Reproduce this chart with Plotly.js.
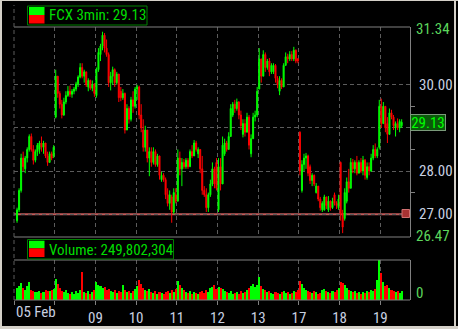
<!DOCTYPE html>
<html><head><meta charset="utf-8">
<script src="https://cdn.plot.ly/plotly-3.0.1.min.js"></script>
<style>html,body{margin:0;padding:0;background:#000;overflow:hidden}#wrap{position:relative;width:458px;height:329px}#plot{position:absolute;left:0;top:0}
.fr{position:absolute;background:#d4d0c8}</style>
</head><body><div id="wrap"><div id="plot"></div>
<div class="fr" style="left:0;top:0;width:2px;height:329px"></div>
<div class="fr" style="left:0;top:0;width:458px;height:1px"></div>
<div class="fr" style="left:454px;top:0;width:2px;height:329px"></div>
<div class="fr" style="left:0;top:326px;width:458px;height:3px"></div>
</div>
<script>
// ---- data (3-min bars, aggregated, 20 per trading day) ----
const symbol = 'FCX';
const interval = '3min';
const lastPrice = 29.13;
const totalVolume = '249,802,304';
const dayLabels = ['05 Feb', '06', '09', '10', '11', '12', '13', '17', '18', '19'];
const shownDayLabels = ['05 Feb', '', '09', '10', '11', '12', '13', '17', '18', '19'];
const barsPerDay = 20;
const firstBar = 1;
const priceTicks = [27, 28, 29, 30];
const priceTickLabels = ['27.00', '28.00', '', '30.00']; // 29.00 hidden behind last-price box
const priceMinorTicks = [27.5, 28.5, 29.5];
const priceMin = 26.47, priceMax = 31.34;
const alertLevel = 27.00;

const open = [
26.85,27.10,27.55,28.30,28.05,28.30,28.50,28.80,28.50,28.25,28.45,28.50,28.65,28.55,28.65,28.35,28.20,28.40,28.35,
29.25,30.20,29.80,29.55,29.30,29.60,29.75,29.85,29.78,29.85,29.90,30.02,30.18,30.40,30.20,30.30,29.95,30.10,29.92,30.00,
29.75,30.35,30.70,30.90,31.15,30.85,30.70,30.05,30.20,30.35,30.05,30.25,29.85,29.70,29.80,28.95,29.45,29.20,29.65,29.50,
29.90,29.95,29.30,28.95,28.55,28.95,28.30,28.45,28.20,28.45,28.15,28.35,27.80,27.90,27.80,27.45,27.25,27.40,27.05,27.45,
27.30,28.30,28.05,28.20,28.10,28.25,28.10,28.45,28.35,28.65,28.40,28.50,28.05,27.55,27.45,27.15,27.45,27.70,28.05,28.20,
27.10,28.10,27.70,28.40,28.65,28.50,28.80,29.30,29.55,29.45,29.60,29.30,28.85,29.10,28.90,29.25,28.40,28.75,29.25,29.30,
29.90,30.60,30.20,30.70,30.40,30.55,30.30,30.30,30.45,30.15,29.85,30.10,29.95,30.45,30.65,30.60,30.70,30.60,30.80,30.60,
28.90,27.55,28.15,28.30,28.35,28.10,27.78,27.90,27.50,27.65,27.35,27.10,27.10,27.40,27.10,27.30,27.15,27.45,27.25,27.15,
28.20,27.00,26.90,27.30,27.75,27.60,28.20,28.05,28.20,27.95,28.20,28.00,28.25,27.85,28.10,28.00,28.30,28.50,28.35,28.55,
29.50,29.10,29.50,29.10,28.85,29.35,29.25,29.00,29.10,29.00,29.05];
const high = [
27.15,27.60,28.40,28.45,28.35,28.55,28.85,28.87,28.60,28.50,28.65,28.70,28.80,28.70,28.65,28.45,28.45,28.45,28.60,
30.35,30.20,29.85,29.65,29.70,29.85,29.97,29.98,29.90,29.95,30.07,30.22,30.50,30.50,30.35,30.30,30.15,30.12,30.10,30.04,
30.40,30.85,30.95,31.23,31.20,31.05,30.75,30.30,30.42,30.38,30.30,30.25,29.95,29.90,29.82,29.55,29.50,29.72,29.85,29.95,
30.00,29.98,29.55,29.20,29.05,28.95,28.55,28.55,28.55,28.50,28.40,28.35,27.98,27.95,27.85,27.60,27.55,27.45,27.60,27.60,
28.50,28.45,28.30,28.28,28.30,28.30,28.50,28.60,28.72,28.70,28.55,28.50,28.35,27.65,27.60,27.50,27.80,28.20,28.10,28.30,
28.30,28.30,28.80,28.75,28.70,28.90,29.55,29.60,29.65,29.68,29.62,29.40,29.20,29.20,29.35,29.30,28.85,29.35,29.40,29.95,
30.85,30.60,30.80,30.75,30.60,30.62,30.50,30.50,30.48,30.20,30.20,30.15,30.50,30.75,30.72,30.78,30.78,30.88,30.82,30.62,
28.92,28.25,28.40,28.42,28.38,28.15,27.95,27.92,27.72,27.65,27.40,27.30,27.45,27.40,27.42,27.32,27.38,27.50,27.30,27.45,
28.22,27.10,27.60,27.85,28.05,28.30,28.28,28.25,28.35,28.25,28.30,28.35,28.28,28.20,28.20,28.40,28.60,28.64,28.55,29.65,
29.68,29.60,29.50,29.25,29.45,29.42,29.30,29.15,29.22,29.20,29.20];
const low = [
26.80,27.05,27.50,28.00,27.95,28.20,28.45,28.45,28.15,28.20,28.35,28.40,28.45,28.40,28.30,28.12,28.20,28.25,28.30,
29.22,29.70,29.45,29.22,29.28,29.55,29.72,29.72,29.70,29.78,29.85,29.95,30.15,30.15,30.05,29.95,29.85,29.88,29.85,29.72,
29.70,30.30,30.55,30.80,30.75,30.65,29.95,29.87,30.00,29.95,30.00,29.60,29.62,29.65,28.87,28.95,29.10,29.15,29.35,29.45,
29.65,29.20,28.90,28.45,28.45,28.20,27.88,28.10,28.15,28.10,28.10,27.80,27.75,27.75,27.35,27.18,27.10,26.80,27.00,27.25,
27.30,27.90,27.65,28.05,28.05,28.05,28.10,28.30,28.35,28.45,28.30,27.95,27.45,27.40,27.05,27.05,27.40,27.65,27.60,27.55,
27.05,27.55,27.70,28.35,28.45,28.50,28.80,29.25,29.35,29.40,29.20,28.95,28.78,28.80,28.90,28.50,28.32,28.75,29.15,29.25,
29.90,30.05,30.20,30.30,30.35,30.20,30.25,30.25,30.05,29.92,29.76,29.90,29.95,30.45,30.50,30.55,30.55,30.55,30.50,30.50,
27.90,27.50,28.00,28.05,27.88,27.70,27.65,27.65,27.48,27.30,27.08,27.05,27.08,27.12,27.05,27.08,27.12,27.20,27.12,27.10,
26.85,26.56,26.85,27.25,27.50,27.60,27.95,27.95,27.90,27.95,27.95,27.90,27.80,27.80,27.90,27.98,28.25,28.30,28.30,28.50,
29.00,29.10,28.90,28.65,28.85,29.20,28.95,28.80,28.95,28.90,29.00];
const close = [
27.10,27.55,28.30,28.10,28.30,28.50,28.80,28.50,28.25,28.45,28.60,28.65,28.55,28.65,28.35,28.20,28.40,28.30,28.55,
30.20,29.80,29.55,29.30,29.60,29.75,29.85,29.78,29.85,29.90,30.02,30.18,30.40,30.20,30.30,30.00,30.10,29.92,30.00,29.80,
30.35,30.75,30.90,31.15,30.85,30.70,30.05,30.20,30.35,30.05,30.25,29.70,29.70,29.80,28.95,29.45,29.20,29.65,29.50,29.90,
29.95,29.30,29.00,28.55,28.95,28.30,28.45,28.20,28.45,28.15,28.35,27.90,27.90,27.80,27.45,27.25,27.45,27.05,27.50,27.30,
28.30,28.05,28.20,28.10,28.25,28.10,28.45,28.35,28.65,28.50,28.50,28.05,27.55,27.45,27.15,27.45,27.70,28.05,27.70,27.60,
28.10,27.70,28.60,28.65,28.50,28.80,29.45,29.55,29.45,29.60,29.30,29.05,29.10,28.90,29.25,28.60,28.75,29.25,29.30,29.85,
30.60,30.20,30.70,30.40,30.55,30.30,30.45,30.45,30.15,30.00,30.10,29.95,30.45,30.65,30.60,30.70,30.60,30.80,30.55,30.55,
28.00,28.15,28.30,28.35,27.95,27.78,27.90,27.70,27.65,27.35,27.15,27.25,27.40,27.20,27.30,27.15,27.30,27.25,27.20,27.35,
27.00,26.70,27.50,27.75,27.60,28.20,28.05,28.20,27.95,28.20,28.00,28.25,27.90,28.10,28.00,28.30,28.50,28.35,28.50,29.50,
29.10,29.50,29.00,28.85,29.35,29.25,29.05,29.10,29.00,29.15,29.13];
// volume per bar, thousands of shares
const volume = [
600,700,850,600,500,700,900,500,450,400,400,450,350,400,500,450,450,500,550,
1050,800,600,450,400,500,350,300,400,300,450,350,500,1400,400,350,450,300,400,500,
900,750,700,600,650,500,550,450,400,500,350,450,400,750,500,400,450,350,450,550,
700,1000,800,600,500,450,550,400,350,450,300,400,350,300,400,450,350,500,400,550,
950,750,600,500,400,350,450,300,400,350,300,400,450,350,500,400,600,650,750,550,
650,600,550,450,400,350,450,300,350,400,300,450,350,400,500,600,700,800,650,750,
1150,700,550,500,400,450,350,300,400,350,300,400,450,350,400,300,350,450,400,500,
950,800,600,500,450,400,350,450,400,300,350,500,550,450,400,350,450,400,500,600,
900,850,750,600,500,450,400,450,350,400,300,400,350,450,400,500,450,550,1000,2000,
1350,900,700,750,600,500,450,400,450,350,450];
const volMax = 2000;

// ---- geometry helpers ----
const W = 458, H = 329, ML = 14, MR = 48, MT = 27, MB = 29;
const px = x => (x - ML) / (W - ML - MR);
const py = y => (H - MB - y) / (H - MT - MB);

const xs = open.map((_, i) => firstBar + i);
const up = open.map((o, i) => close[i] >= o);
const volColors = up.map(u => u ? '#00ff00' : '#ff0000');
const tickvals = dayLabels.map((_, k) => k * barsPerDay - 0.5);
const barWidthPx = 40.7 / barsPerDay;
const xMax = -0.5 + (410 - ML) / barWidthPx;

const FONT = "'Roboto Condensed', 'DejaVu Sans Condensed', sans-serif";
const GRID = '#5c5c5c';
const AXIS = '#808080';
const LBL = '#c8d0e0';
const GREEN_LBL = '#5cd65c';

const traces = [
  {
    type: 'candlestick', x: xs, open: open, high: high, low: low, close: close,
    xaxis: 'x', yaxis: 'y',
    increasing: { line: { color: '#00ff00', width: 1 }, fillcolor: '#00ff00' },
    decreasing: { line: { color: '#ff0000', width: 1 }, fillcolor: '#ff0000' },
    whiskerwidth: 0, hoverinfo: 'skip', showlegend: false
  },
  {
    type: 'bar', x: xs, y: volume, xaxis: 'x', yaxis: 'y2',
    marker: { color: volColors, line: { width: 0 } }, hoverinfo: 'skip', showlegend: false
  }
];

const shapes = [
  { type: 'line', xref: 'paper', yref: 'paper', x0: 0, x1: 1, y0: 1, y1: 1, line: { color: AXIS, width: 1 } },
  { type: 'line', xref: 'paper', yref: 'paper', x0: 0, x1: 1, y0: py(237), y1: py(237), line: { color: AXIS, width: 1 } },
  { type: 'line', xref: 'paper', yref: 'paper', x0: 0, x1: 1, y0: py(260), y1: py(260), line: { color: AXIS, width: 1 } },
  { type: 'line', xref: 'paper', yref: 'paper', x0: 0, x1: 1, y0: 0, y1: 0, line: { color: AXIS, width: 1 } },
  { type: 'line', xref: 'paper', yref: 'paper', x0: 0, x1: 0, y0: 0, y1: py(5), line: { color: GRID, width: 1, dash: '4px,3px' } },
  { type: 'line', xref: 'paper', yref: 'y', x0: 0, x1: px(402), y0: alertLevel, y1: alertLevel, line: { color: '#c05a5a', width: 2 }, layer: 'below' },
  { type: 'rect', xref: 'paper', yref: 'paper', x0: px(402), x1: px(409.5), y0: py(217.5), y1: py(209.5), line: { color: '#d07070', width: 1 }, fillcolor: '#a83232' },
  { type: 'rect', xref: 'paper', yref: 'paper', x0: px(27.5), x1: px(147), y0: py(25), y1: py(6), line: { color: '#008000', width: 1 }, fillcolor: '#000' },
  { type: 'rect', xref: 'paper', yref: 'paper', x0: px(29), x1: px(44.5), y0: py(15), y1: py(7), line: { width: 0 }, fillcolor: '#00ff00' },
  { type: 'rect', xref: 'paper', yref: 'paper', x0: px(29), x1: px(44.5), y0: py(23.5), y1: py(15), line: { width: 0 }, fillcolor: '#ff0000' },
  { type: 'rect', xref: 'paper', yref: 'paper', x0: px(27.5), x1: px(173.5), y0: py(259), y1: py(239.5), line: { color: '#008000', width: 1 }, fillcolor: '#000' },
  { type: 'rect', xref: 'paper', yref: 'paper', x0: px(29), x1: px(44.5), y0: py(248.3), y1: py(240.7), line: { width: 0 }, fillcolor: '#00ff00' },
  { type: 'rect', xref: 'paper', yref: 'paper', x0: px(29), x1: px(44.5), y0: py(257), y1: py(248.3), line: { width: 0 }, fillcolor: '#ff0000' }
];

const annotations = [
  { xref: 'paper', yref: 'paper', x: px(47), y: py(15.5), xanchor: 'left', yanchor: 'middle', showarrow: false,
    text: symbol + ' ' + interval + ': ' + lastPrice.toFixed(2), font: { family: FONT, size: 15, color: '#00dd00' } },
  { xref: 'paper', yref: 'paper', x: px(47), y: py(249.5), xanchor: 'left', yanchor: 'middle', showarrow: false,
    text: 'Volume: ' + totalVolume, font: { family: FONT, size: 15, color: '#00dd00' } },
  { xref: 'paper', yref: 'paper', x: px(14), y: py(312), xanchor: 'left', yanchor: 'middle', showarrow: false,
    text: shownDayLabels[0], font: { family: FONT, size: 15, color: LBL } },
  { xref: 'paper', yref: 'paper', x: px(414), y: py(29.5), xanchor: 'left', yanchor: 'middle', showarrow: false,
    text: priceMax.toFixed(2), font: { family: FONT, size: 15, color: GREEN_LBL } },
  { xref: 'paper', yref: 'paper', x: px(414), y: py(235.5), xanchor: 'left', yanchor: 'middle', showarrow: false,
    text: priceMin.toFixed(2), font: { family: FONT, size: 15, color: GREEN_LBL } },
  { xref: 'paper', yref: 'paper', x: px(414), y: py(292.5), xanchor: 'left', yanchor: 'middle', showarrow: false,
    text: '0', font: { family: FONT, size: 15, color: GREEN_LBL } },
  { xref: 'paper', yref: 'y', x: px(410), y: lastPrice, xanchor: 'left', yanchor: 'middle', showarrow: false,
    text: lastPrice.toFixed(2), font: { family: FONT, size: 15, color: '#00ff00' },
    bgcolor: '#0a5a0a', bordercolor: '#7a9a7a', borderwidth: 1, borderpad: 0, width: 34, height: 15 }
];

const layout = {
  width: W, height: H,
  margin: { l: ML, r: MR, t: MT, b: MB, pad: 0 },
  paper_bgcolor: '#000', plot_bgcolor: '#000',
  showlegend: false, bargap: 0,
  font: { family: FONT, size: 15, color: LBL },
  xaxis: {
    anchor: 'y2', domain: [0, 1], range: [-0.5, xMax],
    rangeslider: { visible: false },
    tickmode: 'array', tickvals: tickvals, ticktext: shownDayLabels.map((t, k) => k === 0 ? '' : t),
    ticks: 'outside', ticklen: 4, tickcolor: AXIS, tickwidth: 1,
    showgrid: true, gridcolor: GRID, griddash: '4px,3px', gridwidth: 1,
    showline: false, zeroline: false,
    tickfont: { family: FONT, size: 15, color: LBL }, fixedrange: true
  },
  yaxis: {
    domain: [py(237), 1], anchor: 'x', side: 'right', range: [priceMin, priceMax],
    tickmode: 'array', tickvals: priceTicks, ticktext: priceTickLabels,
    ticks: '', ticklabelstandoff: 5,
    minor: { tickmode: 'array', tickvals: priceMinorTicks, ticks: 'outside', ticklen: 4, tickcolor: AXIS, showgrid: false },
    showgrid: true, gridcolor: GRID, griddash: '4px,3px', gridwidth: 1,
    showline: true, linecolor: AXIS, linewidth: 1, zeroline: false,
    tickfont: { family: FONT, size: 15, color: LBL }, fixedrange: true
  },
  yaxis2: {
    domain: [0, py(260)], anchor: 'x', side: 'right', range: [0, volMax],
    showgrid: false, showticklabels: false, ticks: '',
    showline: true, linecolor: AXIS, linewidth: 1, zeroline: false, fixedrange: true
  },
  shapes: shapes,
  annotations: annotations
};

Plotly.newPlot('plot', traces, layout, { staticPlot: true, displayModeBar: false });
</script>
</body></html>
